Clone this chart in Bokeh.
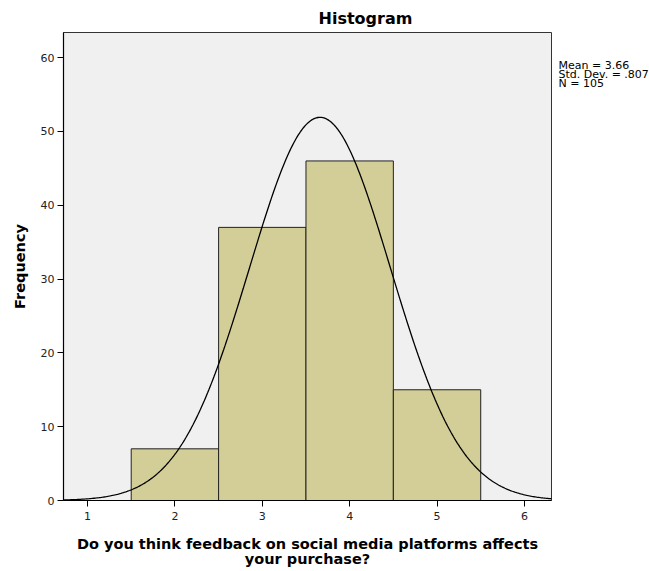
import numpy as np
from bokeh.plotting import figure
from bokeh.layouts import row
from bokeh.models import FixedTicker, Range1d
from bokeh.core.properties import value
from bokeh.embed import file_html
from bokeh.resources import INLINE

# data
categories = [2, 3, 4, 5]
frequencies = [7, 37, 46, 15]
mean_val = 3.66
sd_val = 0.807
n_val = 105
x_ticks = [1, 2, 3, 4, 5, 6]
y_ticks = [0, 10, 20, 30, 40, 50, 60]
stats_lines = ["Mean = 3.66", "Std. Dev. = .807", "N = 105"]
title_text = "Histogram"
x_label = "Do you think feedback on social media platforms affects\nyour purchase?"
y_label = "Frequency"

H = 571
W_MAIN = 555
W_SIDE = 94
TOP, BOTTOM = 32, 71
FONT = "DejaVu Sans"

p = figure(width=W_MAIN, height=H, output_backend="svg", toolbar_location=None,
           x_range=Range1d(0.725, 6.31), y_range=Range1d(0, 63.4),
           min_border_left=63, min_border_right=4, min_border_top=TOP, min_border_bottom=BOTTOM)
p.background_fill_color = "#F0F0F0"
p.border_fill_color = "white"
p.outline_line_color = "#333333"
p.outline_line_width = 1
p.xgrid.visible = False
p.ygrid.visible = False

p.title.text = title_text
p.title.align = "left"
p.title.offset = 255
p.title.text_font = FONT
p.title.text_font_size = "16px"
p.title.text_font_style = "bold"
p.title.text_color = "black"
p.title.standoff = 10

p.quad(left=[c - 0.5 for c in categories], right=[c + 0.5 for c in categories],
       bottom=0, top=frequencies, fill_color="#D3CE97", line_color="#222222", line_width=1)

xs = np.linspace(0.725, 6.31, 400)
ys = n_val * 1.0 / (sd_val * np.sqrt(2 * np.pi)) * np.exp(-0.5 * ((xs - mean_val) / sd_val) ** 2)
p.line(xs, ys, line_color="black", line_width=1.3)

for ax, ticks in ((p.xaxis, x_ticks), (p.yaxis, y_ticks)):
    ax.ticker = FixedTicker(ticks=ticks)
    ax.minor_tick_line_color = None
    ax.major_tick_in = 0
    ax.major_tick_out = 6
    ax.major_tick_line_color = "black"
    ax.axis_line_color = "black"
    ax.axis_line_width = 1.2
    ax.major_label_text_font = FONT
    ax.major_label_text_font_size = "11px"
    ax.major_label_text_color = "#222222"
    ax.axis_label_text_font = FONT
    ax.axis_label_text_font_size = "14.5px"
    ax.axis_label_text_font_style = "bold"
    ax.axis_label_text_color = "black"
p.xaxis.major_label_standoff = 5
p.yaxis.major_label_standoff = 3
p.xaxis.axis_label = x_label
p.yaxis.axis_label = y_label
p.xaxis.axis_label_text_line_height = 0.95
p.xaxis.axis_label_standoff = 13
p.yaxis.axis_label_standoff = 10

# side panel carrying the summary statistics; its frame is aligned with the main one,
# y range expressed in page pixels (downwards)
side = figure(width=W_SIDE, height=H, output_backend="svg", toolbar_location=None,
              x_range=Range1d(0, W_SIDE), y_range=Range1d(H - BOTTOM, TOP),
              x_axis_type=None, y_axis_type=None,
              min_border_left=0, min_border_right=0, min_border_top=TOP, min_border_bottom=BOTTOM)
side.outline_line_color = None
side.xgrid.visible = False
side.ygrid.visible = False
side.background_fill_color = "white"
side.border_fill_color = "white"
side.text(x=[3, 3, 3], y=[58, 67, 76], text=stats_lines,
          text_font=value(FONT), text_font_size="11px", text_color="black",
          text_baseline="top", text_align="left")

layout = row(p, side, spacing=0)
open("out.html", "w").write(file_html(layout, INLINE))
